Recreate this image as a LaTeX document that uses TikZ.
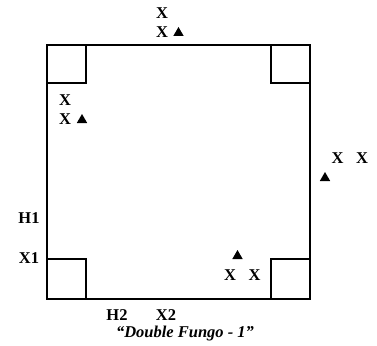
\documentclass[tikz,border=0pt]{standalone}
\usepackage{fontspec}
\setmainfont{Liberation Serif}
\usetikzlibrary{shapes.geometric}

\begin{document}
\begin{tikzpicture}[x=1pt,y=-1pt,
  lbl/.style={font=\fontsize{16.5}{18}\selectfont\bfseries,inner sep=0pt},
  cone/.style={regular polygon,regular polygon sides=3,fill=black,minimum size=12pt,inner sep=0pt},
  base/.style={draw,line width=1.3pt}]
\useasboundingbox (0,0) rectangle (377,345);
% field and corners
\draw[base] (47,45) rectangle (310,299);
\draw[base] (47,45) rectangle (86,83);
\draw[base] (271,45) rectangle (310,83);
\draw[base] (47,259) rectangle (86,299);
\draw[base] (271,259) rectangle (310,299);
% top
\node[lbl] (TOPX1) at (162,13) {X};
\node[lbl] (TOPX2) at (162,32) {X};
\node[cone] (TOPC) at (178.5,33) {};
% left
\node[lbl] (LFTX1) at (65,100) {X};
\node[lbl] (LFTX2) at (65,119) {X};
\node[cone] (LFTC) at (82,120) {};
% right
\node[lbl] (RGTX1) at (337.5,158) {X};
\node[lbl] (RGTX2) at (362,158) {X};
\node[cone] (RGTC) at (325,178) {};
% bottom right
\node[cone] (BRC) at (237.5,256) {};
\node[lbl] (BRX1) at (230,275.5) {X};
\node[lbl] (BRX2) at (254.5,275.5) {X};
% hitters
\node[lbl] (H1) at (29,218.5) {H1};
\node[lbl] (X1) at (29,258) {X1};
\node[lbl] (H2) at (117,315.5) {H2};
\node[lbl] (X2) at (166,315.5) {X2};
\node[lbl,font=\fontsize{16.5}{18}\selectfont\bfseries\itshape] (TITLE) at (185,334) {“Double Fungo - 1”};
\end{tikzpicture}
\end{document}
